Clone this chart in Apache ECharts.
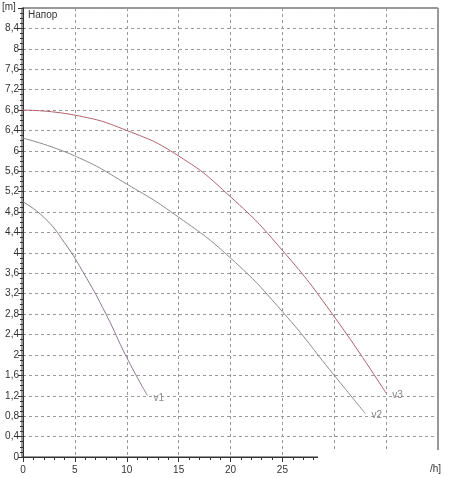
<!DOCTYPE html>
<html><head><meta charset="utf-8">
<script src="https://cdn.jsdelivr.net/npm/echarts@6/dist/echarts.min.js"></script>
<style>body{margin:0;background:#fff}#c{width:458px;height:478px}</style>
</head><body><div id="c"></div>
<script>
const v1 = [[0,5.0],[2,4.7],[4,4.2],[6,3.55],[8,2.8],[10,1.95],[12,1.2]]
const v2 = [[0,6.25],[5,5.9],[10,5.35],[15,4.7],[20,3.9],[25,2.85],[30,1.6],[33,0.85]]
const v3 = [[0,6.8],[5,6.7],[10,6.4],[15,5.9],[20,5.1],[25,4.05],[30,2.75],[35,1.25]]
const names = ['v1', 'v2', 'v3']
const colors = ['#8a7a90', '#8a8a8a', '#b0606a']

const chart = echarts.init(document.getElementById('c'))
const mk = (name, data, color) => ({
  name, type: 'line', data, smooth: true, symbol: 'none',
  lineStyle: { color, width: 1 },
  endLabel: { show: true, formatter: name, color: '#888', fontSize: 10, offset: [-2, 2] }
})
chart.setOption({
  animation: false,
  grid: { left: 23, right: 20, top: 8, bottom: 21 },
  xAxis: {
    type: 'value', min: 0, max: 40, interval: 5,
    axisLine: { lineStyle: { color: '#333' } },
    axisTick: { lineStyle: { color: '#333' } },
    minorTick: { show: true, splitNumber: 5, lineStyle: { color: '#333' } },
    axisLabel: { color: '#333', fontSize: 10, fontFamily: 'Arial', showMaxLabel: false },
    splitLine: { lineStyle: { type: [3, 3], color: '#999' } }
  },
  yAxis: {
    type: 'value', min: 0, max: 8.8, interval: 0.4,
    axisLine: { show: true, lineStyle: { color: '#333' } },
    axisTick: { lineStyle: { color: '#333' } },
    minorTick: { show: true, splitNumber: 4, lineStyle: { color: '#333' } },
    axisLabel: { color: '#333', fontSize: 10, fontFamily: 'Arial', margin: 4, showMaxLabel: false,
      formatter: v => String(Math.round(v * 10) / 10).replace('.', ',') },
    splitLine: { lineStyle: { type: [3, 3], color: '#999' } }
  },
  graphic: [
    { type: 'rect', shape: { x: 22, y: 8, width: 416, height: 449 }, style: { fill: 'none', stroke: '#333', lineWidth: 1 }, silent: true },
    { type: 'rect', shape: { x: 318, y: 450, width: 140, height: 28 }, style: { fill: '#fff' }, z: 100 },
    { type: 'text', left: 2, top: 2, style: { text: '[m]', fontSize: 10, fill: '#333', fontFamily: 'Arial' } },
    { type: 'text', left: 28, top: 10, style: { text: 'Напор', fontSize: 10, fill: '#333', fontFamily: 'Arial' } },
    { type: 'text', left: 430, top: 464, style: { text: '/h]', fontSize: 10, fill: '#333', fontFamily: 'Arial' }, z: 101 }
  ],
  series: [mk(names[0], v1, colors[0]), mk(names[1], v2, colors[1]), mk(names[2], v3, colors[2])]
})
</script></body></html>
